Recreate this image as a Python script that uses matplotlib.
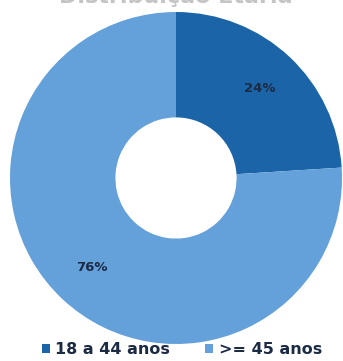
import matplotlib
matplotlib.use("Agg")
import matplotlib.pyplot as plt

# age groups and their share
faixas = ["18 a 44 anos", ">= 45 anos"]
valores = [24, 76]
cores = ["#1c64a8", "#64a0d9"]
titulo = "Distribuição Etária"

fig = plt.figure(figsize=(3.43, 3.61), dpi=100)
ax = fig.add_axes([0, 0, 1, 1])

wedges, _, pcts = ax.pie(
    valores, colors=cores, startangle=90, counterclock=False,
    center=(176, 183), radius=166, autopct="%d%%", pctdistance=0.74,
    wedgeprops=dict(width=166 * 0.635, edgecolor="none"),
    textprops=dict(color="#1c2b44", fontsize=9.5, fontweight="bold"),
    frame=True,
)
ax.set_xlim(0, 343)
ax.set_ylim(0, 361)
ax.set_aspect("equal")
ax.axis("off")

# title sits mostly above the top edge
ax.text(176, 354, titulo, ha="center", va="bottom", fontsize=16,
        fontweight="bold", color="#c4c4c4")

leg = ax.legend(wedges, faixas, loc="lower center", bbox_to_anchor=(0.53, -0.03),
                ncol=2, frameon=False, handlelength=0.5, handleheight=0.5,
                handletextpad=0.35, columnspacing=2.2,
                prop=dict(size=11.5, weight="bold"))
for t in leg.get_texts():
    t.set_color("#1c2b44")

fig.savefig("out.png", dpi=100)
